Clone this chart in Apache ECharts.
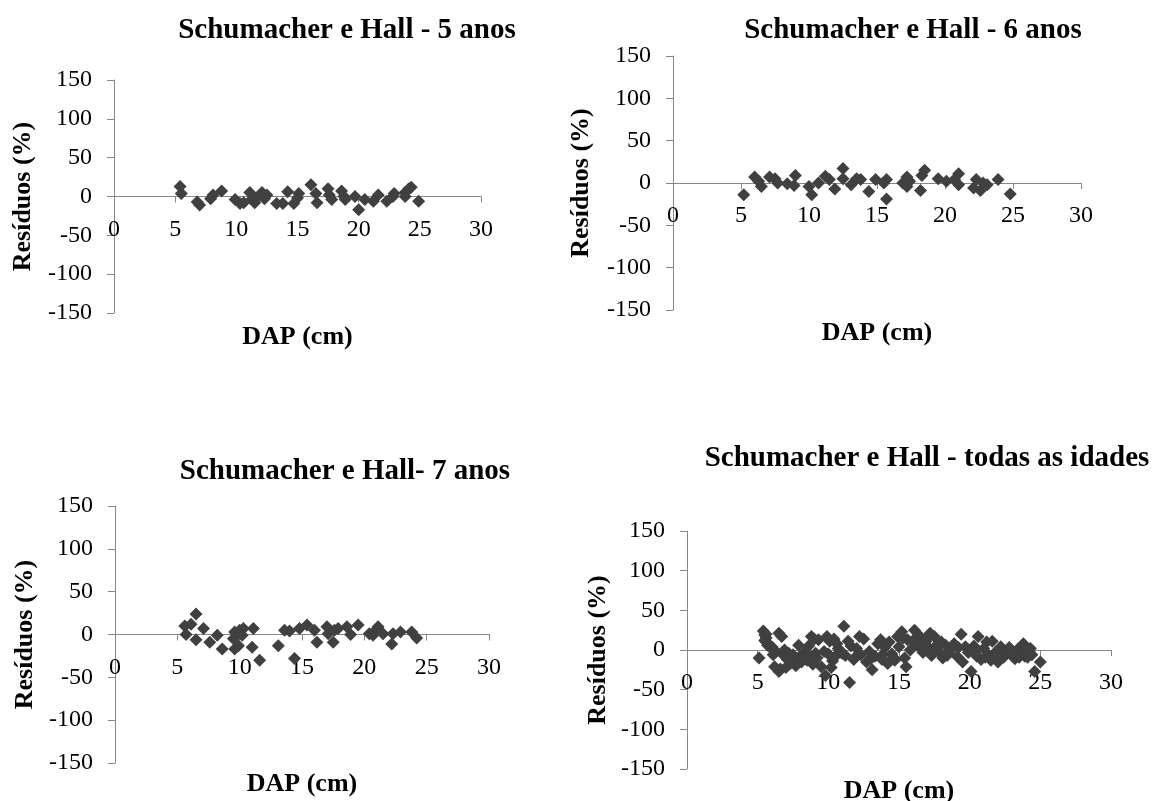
<!DOCTYPE html>
<html>
<head>
<meta charset="utf-8">
<script src="https://cdn.jsdelivr.net/npm/echarts@6/dist/echarts.min.js"></script>
<style>
  html, body { margin: 0; padding: 0; background: #ffffff; }
  #chart { width: 1155px; height: 801px; }
</style>
</head>
<body>
<div id="chart"></div>
<script>
// Panel titles and axis names
const panelTitles = [
  'Schumacher e Hall - 5 anos',
  'Schumacher e Hall - 6 anos',
  'Schumacher e Hall- 7 anos',
  'Schumacher e Hall - todas as idades'
];
const xName = 'DAP (cm)';
const yName = 'Resíduos (%)';

// Axis ranges and steps
const xMin = 0, xMax = 30, xStep = 5;
const yMin = -150, yMax = 150, yStep = 50;

// Residuals, 5 years
const dap5 = [5.4, 5.5, 6.8, 7.0, 7.9, 8.1, 8.8, 9.9, 10.3, 10.6, 11.1, 11.3, 11.5, 11.8, 12.1, 12.3, 12.5,
  13.3, 13.8, 14.2, 14.7, 15.0, 15.1, 16.1, 16.5, 16.6, 17.5, 17.6, 17.8, 18.6, 18.8, 18.9, 19.7, 20.0,
  20.5, 21.2, 21.6, 22.3, 22.8, 22.9, 23.8, 23.8, 24.1, 24.3, 24.9];
const res5 = [13, 4, -7, -11, -3, 2, 7, -4, -9, -8, 5, -3, -8, 0, 5, -3, 2,
  -9, -9, 6, -9, -2, 4, 15, 4, -8, 10, 2, -4, 7, 0, -4, 0, -17,
  -4, -6, 2, -6, 0, 4, 5, 0, 10, 12, -6];

// Residuals, 6 years
const dap6 = [5.2, 6.0, 6.3, 6.5, 7.1, 7.5, 7.7, 8.4, 9.0, 8.9, 10.0, 10.2, 10.7, 11.2, 11.5, 11.9, 12.5,
  12.5, 13.1, 13.5, 13.8, 14.4, 14.9, 15.5, 15.7, 15.7, 16.9, 17.2, 17.2, 17.4, 18.2, 18.3, 18.5, 19.5,
  20.1, 20.7, 21.0, 21.0, 22.1, 22.3, 22.6, 22.8, 23.1, 23.9, 24.8];
const res6 = [-14, 7, 2, -4, 7, 5, 0, -1, 9, -3, -4, -14, 0, 8, 4, -7, 17,
  5, -2, 5, 4, -10, 4, 0, 4, -19, 0, 7, -4, 2, -9, 9, 15, 5,
  2, 4, 11, -2, -6, 4, -9, 0, -2, 4, -13];

// Residuals, 7 years
const dap7 = [5.6, 5.7, 6.1, 6.5, 6.5, 7.1, 7.6, 8.2, 8.6, 9.5, 9.6, 9.6, 9.9, 10.0, 10.2, 10.3, 11.0,
  11.1, 11.6, 13.1, 13.6, 14.0, 14.4, 14.8, 15.4, 16.0, 16.2, 17.0, 17.1, 17.5, 17.6, 17.9, 18.6, 18.9,
  19.5, 20.4, 20.7, 20.9, 21.1, 21.5, 22.2, 22.3, 22.9, 23.8, 24.2];
const res7 = [10, 0, 12, 24, -6, 7, -9, -1, -17, -5, 3, -17, -13, 5, -1, 7, -15,
  7, -30, -13, 5, 4, -28, 7, 11, 5, -9, 9, 1, -9, 5, 7, 9, 0,
  11, 1, -1, 5, 9, 1, -11, 1, 3, 3, -4];

// Residuals, all ages pooled
const dapAll = [5.1, 5.4, 5.5, 5.6, 5.6, 5.7, 5.9, 6.0, 6.2, 6.3, 6.5, 6.5, 6.7, 6.8, 6.9, 7.0, 7.2,
  7.3, 7.4, 7.6, 7.7, 7.9, 8.0, 8.1, 8.3, 8.5, 8.6, 8.8, 8.9, 9.1, 9.2, 9.3, 9.5, 9.7, 9.8, 9.9, 10.0,
  10.1, 10.2, 10.4, 10.5, 10.7, 10.9, 11.1, 11.2, 11.4, 11.5, 11.6, 11.8, 12.0, 12.2, 12.3, 12.5, 12.7,
  12.9, 13.1, 13.3, 13.5, 13.7, 13.8, 14.0, 14.2, 14.3, 14.5, 14.7, 14.9, 15.0, 15.2, 15.4, 15.5, 15.6,
  15.8, 16.1, 16.3, 16.5, 16.7, 16.9, 17.1, 17.2, 17.3, 17.5, 17.6, 17.8, 18.0, 18.1, 18.3, 18.5, 18.7,
  18.9, 19.1, 19.4, 19.5, 19.7, 19.9, 20.1, 20.3, 20.5, 20.6, 20.8, 21.0, 21.2, 21.3, 21.5, 21.6, 21.8,
  22.0, 22.2, 22.4, 22.6, 22.8, 23.0, 23.2, 23.4, 23.6, 23.8, 23.9, 24.0, 24.2, 24.4, 24.6, 25.0,
  5.5, 5.6, 6.1, 6.6, 7.1, 7.5, 7.8, 8.2, 8.7, 9.0, 10.3, 10.6, 11.0, 11.9, 13.0, 13.9, 14.6, 15.3,
  16.0, 16.4, 17.0, 17.4, 17.9, 18.4, 19.2, 20.4, 21.1, 22.1, 22.9, 23.5, 24.1, 24.3];
const resAll = [-10, 24, 19, 15, 10, 6, 3, 4, -21, -2, 21, -27, 17, -6, 0, -22, -4,
  -17, -10, -13, -20, 6, -8, -15, -3, -13, 5, 17, -18, -4, -10, 13, -21, -2, -32, 17, -5,
  11, -22, 14, -8, 2, -3, 30, -7, 11, -41, 5, -12, 2, 17, -6, 14, -15,
  -2, -25, -8, 8, 13, -12, 3, -17, 10, -5, -13, 17, 4, 23, -10, -21, 13,
  0, 25, 8, 17, -3, 11, 3, 21, -7, 17, 5, -2, 10, -10, 6, -4, 2,
  8, -8, 20, -15, 4, -3, -27, 5, -8, 17, -12, 2, 10, -6, -13, 11, -3,
  -15, 4, -9, -2, 3, -6, -11, 1, -4, 8, -8, 3, -2, -6, -27, -15,
  12, 20, -6, -24, -12, -6, -16, -11, -8, 14, -14, 8, -4, -9, -11, -5, -9, 15,
  12, 4, 15, -4, 7, -7, 3, -3, -9, -7, -2, -9, -9, 2];

const panels = [
  { dap: dap5, res: res5 },
  { dap: dap6, res: res6 },
  { dap: dap7, res: res7 },
  { dap: dapAll, res: resAll }
];

// Panel layout (plot rectangles, title centres, axis-name gaps)
const layout = [
  { left: 114, top: 80,  width: 367, height: 233, tx: 342, ty: 11,  xGap: 128, yGap: 78 },
  { left: 673, top: 56,  width: 408, height: 254, tx: 908, ty: 11,  xGap: 137, yGap: 79 },
  { left: 115, top: 506, width: 374, height: 257, tx: 340, ty: 452, xGap: 137, yGap: 77 },
  { left: 687, top: 531, width: 424, height: 238, tx: 922, ty: 439, xGap: 128, yGap: 76 }
];

const FONT = '"Liberation Serif", "Times New Roman", serif';
const AXIS_GRAY = '#868686';
const MARK = '#404040';

const option = {
  backgroundColor: '#ffffff',
  animation: false,
  title: layout.map((L, i) => ({
    text: panelTitles[i],
    left: L.tx,
    top: L.ty,
    textAlign: 'center',
    textStyle: { fontFamily: FONT, fontWeight: 'bold', fontSize: 29, color: '#000' }
  })),
  grid: layout.map(L => ({
    left: L.left, top: L.top, width: L.width, height: L.height,
    containLabel: false,
    outerBoundsMode: 'none'
  })),
  // The horizontal axis crosses the vertical one at zero residual, so it is
  // lifted from the plot's bottom edge to its middle (the y range is symmetric).
  xAxis: layout.map((L, i) => ({
    type: 'value',
    gridIndex: i,
    min: xMin, max: xMax, interval: xStep,
    position: 'bottom',
    offset: -L.height / 2,
    name: xName,
    nameLocation: 'middle',
    nameGap: L.xGap,
    nameTextStyle: { fontFamily: FONT, fontWeight: 'bold', fontSize: 26, color: '#000' },
    axisLine: { show: true, onZero: false, lineStyle: { color: AXIS_GRAY, width: 1 } },
    axisTick: { show: true, inside: false, length: 6, lineStyle: { color: AXIS_GRAY } },
    axisLabel: { fontFamily: FONT, fontSize: 24, color: '#000', margin: 21 },
    splitLine: { show: false }
  })),
  yAxis: layout.map((L, i) => ({
    type: 'value',
    gridIndex: i,
    min: yMin, max: yMax, interval: yStep,
    name: yName,
    nameLocation: 'middle',
    nameGap: L.yGap,
    nameTextStyle: { fontFamily: FONT, fontWeight: 'bold', fontSize: 26, color: '#000' },
    axisLine: { show: true, onZero: false, lineStyle: { color: AXIS_GRAY, width: 1 } },
    axisTick: { show: true, inside: false, length: 7, lineStyle: { color: AXIS_GRAY } },
    axisLabel: { fontFamily: FONT, fontSize: 24, color: '#000', margin: 22 },
    splitLine: { show: false }
  })),
  series: panels.map((p, i) => ({
    type: 'scatter',
    xAxisIndex: i,
    yAxisIndex: i,
    symbol: 'diamond',
    symbolSize: 13,
    itemStyle: { color: MARK, opacity: 1 },
    data: p.dap.map((d, k) => [d, p.res[k]])
  }))
};

const chart = echarts.init(document.getElementById('chart'), null, { renderer: 'canvas' });
chart.setOption(option);
</script>
</body>
</html>
